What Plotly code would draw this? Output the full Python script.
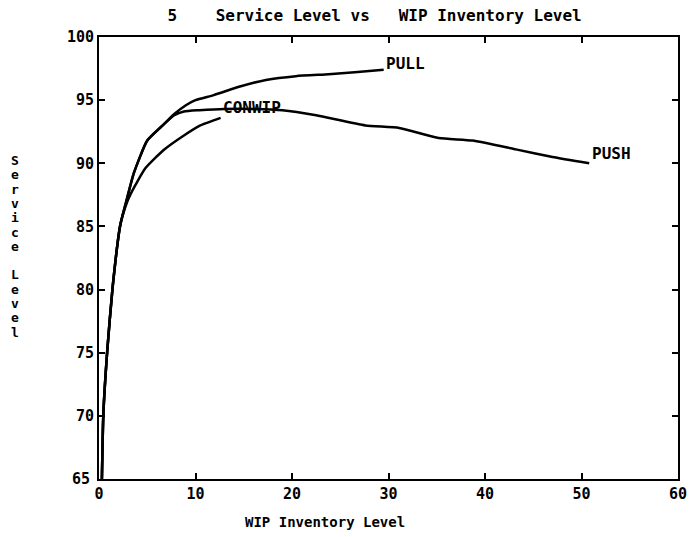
import plotly.graph_objects as go

# WIP inventory level (x) and service level (y)
pull_x = [0.3, 0.45, 0.85, 1.4, 2.2, 2.9, 3.6, 5.0, 6.6, 7.8, 9.0, 10.0, 11.9, 14.7, 17.3, 20.4, 23.8, 26.5, 29.5]
pull_y = [65.0, 70.1, 75.1, 80.1, 85.1, 87.2, 89.2, 91.8, 93.0, 93.9, 94.6, 95.0, 95.4, 96.1, 96.6, 96.9, 97.05, 97.2, 97.4]

push_x = [0.3, 0.45, 0.85, 1.4, 2.2, 2.9, 3.6, 5.0, 6.6, 7.8, 8.8, 10.4, 13.0, 16.0, 19.0, 22.5, 27.6, 31.1, 35.2, 38.7, 43.2, 47.0, 50.8]
push_y = [65.0, 70.1, 75.1, 80.1, 85.1, 87.2, 89.2, 91.8, 93.0, 93.8, 94.1, 94.2, 94.3, 94.3, 94.2, 93.8, 93.0, 92.8, 92.0, 91.8, 91.1, 90.5, 90.0]

conwip_x = [0.3, 0.45, 0.85, 1.4, 2.2, 2.9, 3.3, 4.8, 6.7, 8.8, 10.5, 12.6]
conwip_y = [65.0, 70.1, 75.1, 80.1, 85.1, 86.9, 87.6, 89.6, 91.05, 92.2, 93.0, 93.6]

y_ticks = [70, 75, 80, 85, 90, 95, 100]
x_ticks = [0, 10, 20, 30, 40, 50, 60]

labels = ["PULL", "PUSH", "CONWIP"]
label_x = [29.5, 50.9, 12.6]
label_y = [97.9, 90.8, 94.4]

FONT = "DejaVu Sans Mono"
line = dict(color="black", width=2.5)

fig = go.Figure()
for xs, ys, name in [(pull_x, pull_y, "PULL"), (push_x, push_y, "PUSH"), (conwip_x, conwip_y, "CONWIP")]:
    fig.add_trace(go.Scatter(x=xs, y=ys, mode="lines", line=dict(line, shape="spline", smoothing=0.5),
                             name=name, showlegend=False, cliponaxis=True))

for t, lx, ly in zip(labels, label_x, label_y):
    fig.add_annotation(x=lx, y=ly, text=t, showarrow=False, xanchor="left", yanchor="middle",
                       font=dict(family=FONT, size=16, color="black", weight="bold"))

fig.add_annotation(xref="paper", yref="paper", x=-0.012, y=0.0, text="65", showarrow=False,
                   xanchor="right", yanchor="middle",
                   font=dict(family=FONT, size=15, color="black", weight="bold"))

# vertical stacked y-axis title
ytitle = "Service Level"
top_px, step_px = 160.5, 14.3
for i, ch in enumerate(ytitle):
    if ch == " ":
        continue
    py = top_px + i * step_px
    fig.add_annotation(xref="paper", yref="paper", x=(15 - 99) / 579, y=(479 - py) / 442,
                       text=ch, showarrow=False, xanchor="center", yanchor="middle",
                       font=dict(family=FONT, size=13, color="black", weight="bold"))

fig.add_annotation(xref="paper", yref="paper", x=0.39, y=-0.098,
                   text="WIP Inventory Level", showarrow=False, xanchor="center", yanchor="middle",
                   font=dict(family=FONT, size=14, color="black", weight="bold"))

axis_common = dict(showgrid=False, zeroline=False, showline=True, linecolor="black", linewidth=2,
                   ticks="inside", ticklen=6, tickwidth=2, tickcolor="black", mirror="ticks",
                   tickfont=dict(family=FONT, size=15, color="black", weight="bold"))

fig.update_xaxes(range=[0, 60], tickvals=x_ticks, **axis_common)
fig.update_yaxes(range=[65, 100], tickvals=y_ticks, **axis_common)

fig.update_layout(
    width=700, height=537,
    margin=dict(l=99, r=22, t=37, b=58, autoexpand=False),
    paper_bgcolor="white", plot_bgcolor="white",
    title=dict(text="5    Service Level vs   WIP Inventory Level", x=0.476, xanchor="center",
               xref="paper", y=1 - 15 / 537, yanchor="middle",
               font=dict(family=FONT, size=16, color="black", weight="bold")),
)

fig.write_html("out.html")
